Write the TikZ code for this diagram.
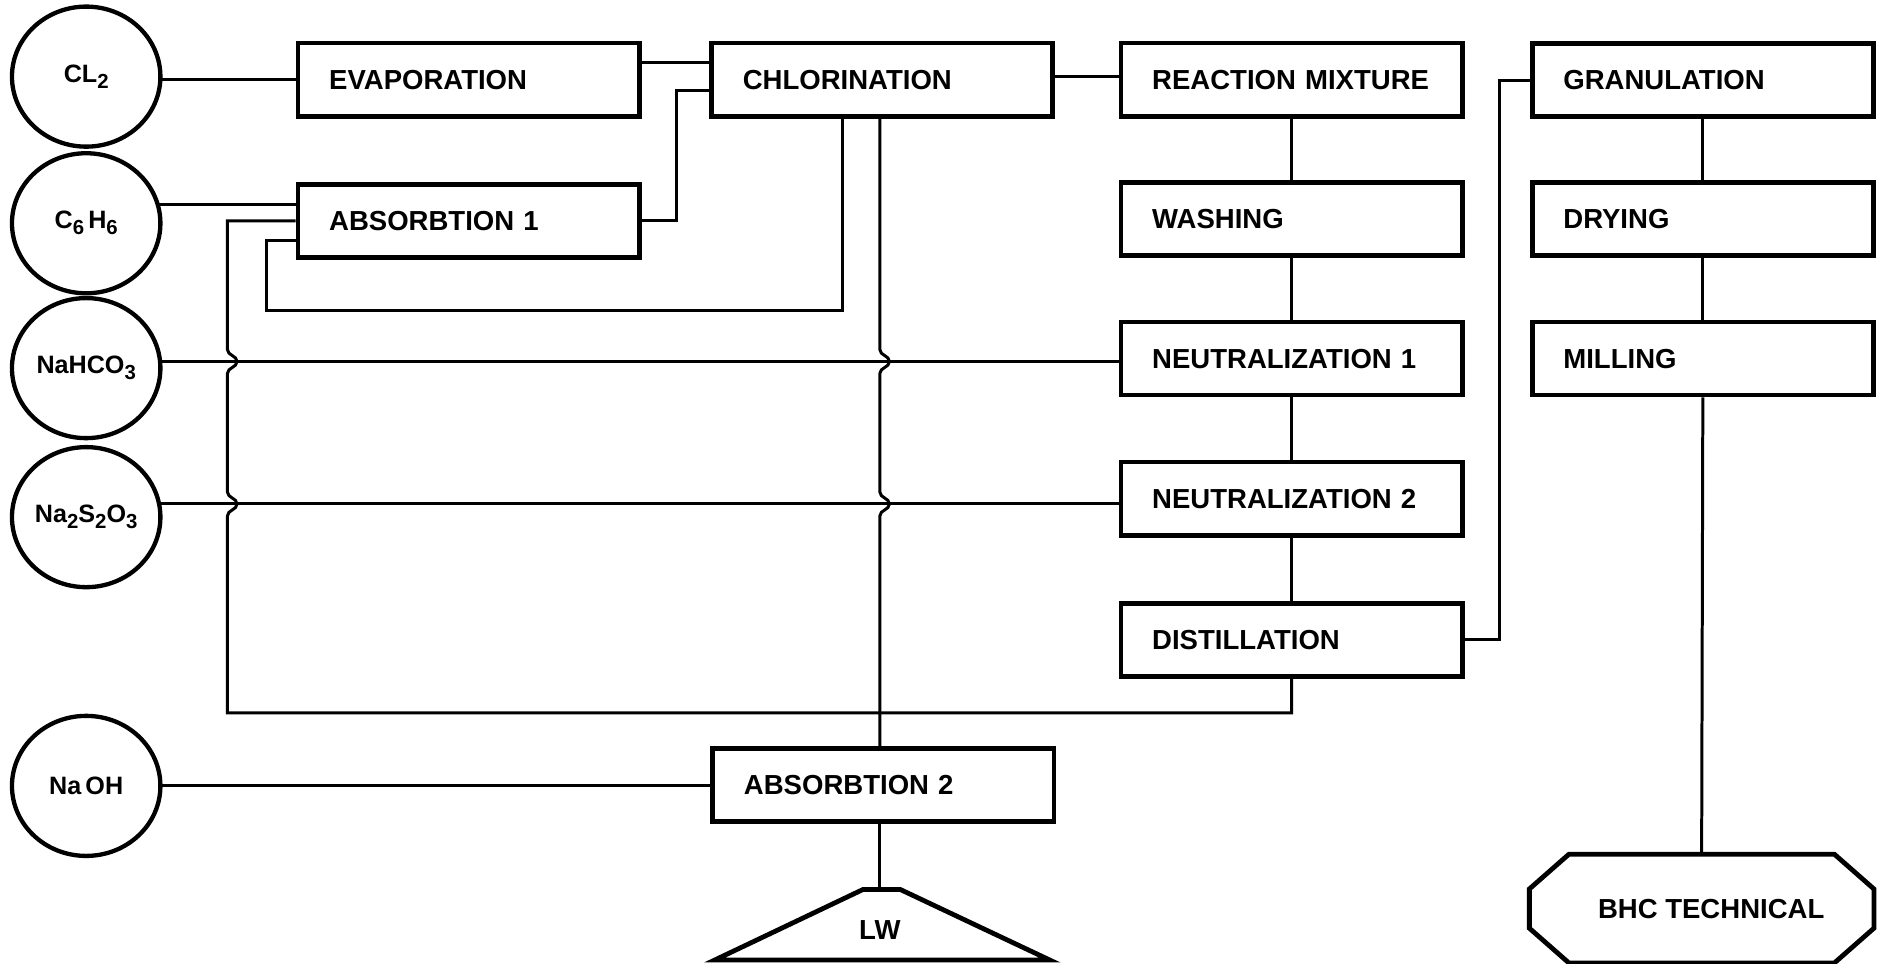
\documentclass[tikz,border=0pt]{standalone}
\usepackage{fontspec}
\setmainfont{Liberation Sans}
\usetikzlibrary{shapes.geometric,calc}
\pgfdeclarelayer{back}
\pgfdeclarelayer{background}
\pgfsetlayers{back,background,main}
\newcommand{\lowsub}[1]{\raisebox{-0.45ex}{\fontsize{8.5}{9}\selectfont #1}}
\begin{document}
\begin{tikzpicture}[x=0.5pt,y=-0.5pt,
  box/.style={draw,line width=2pt,fill=white,rectangle,minimum height=30.5pt,
    text width=116.5pt,inner xsep=13pt,inner ysep=0pt,align=left,
    font=\fontsize{11.5}{13}\selectfont\bfseries},
  src/.style={draw,ellipse,line width=1.8pt,fill=white,minimum width=62pt,
    minimum height=58.5pt,inner sep=0pt,font=\fontsize{10.5}{12}\selectfont\bfseries},
  conn/.style={line width=1.25pt,line join=miter},
  shp/.style={line width=2pt,line join=miter},
  lbl/.style={inner sep=0pt,font=\fontsize{11.5}{13}\selectfont\bfseries}]
\begin{pgfonlayer}{back}
\fill[white] (0,0) rectangle (1568,805);
\end{pgfonlayer}
\useasboundingbox (0,0) rectangle (1568,805);

% sources
\node[src] (cl2) at (72,64) {CL\lowsub{2}};
\node[src] (c6h6) at (72,186.5) {C\lowsub{6}\,H\lowsub{6}};
\node[src] (nahco3) at (72,307.5) {NaHCO\lowsub{3}};
\node[src] (na2s2o3) at (72,432) {Na\lowsub{2}S\lowsub{2}O\lowsub{3}};
\node[src] (naoh) at (72,656.5) {Na\,OH};

% process boxes
\node[box] (evap) at (391.5,66.5) {EVAPORATION};
\node[box] (abs1) at (391.5,184.5) {ABSORBTION 1};
\node[box] (chlor) at (737,66.5) {CHLORINATION};
\node[box] (abs2) at (738,656) {ABSORBTION 2};
\node[box] (rm) at (1079,66.5) {REACTION MIXTURE};
\node[box] (wash) at (1079,183) {WASHING};
\node[box] (neut1) at (1079,299.5) {NEUTRALIZATION 1};
\node[box] (neut2) at (1079,416.5) {NEUTRALIZATION 2};
\node[box] (dist) at (1079,534.5) {DISTILLATION};
\node[box] (gran) at (1422.5,67) {GRANULATION};
\node[box] (dry) at (1422.5,183) {DRYING};
\node[box] (mill) at (1422.5,299.5) {MILLING};

% BHC technical (octagon)
\node[lbl,minimum width=143.5pt,minimum height=45pt] (bhc) at (1421.5,759) {\hspace*{8pt}BHC TECHNICAL};
\draw[shp] ([xshift=16.5pt]bhc.north west) -- ([xshift=-16.5pt]bhc.north east)
  -- ([yshift=-14.5pt]bhc.north east) -- ([yshift=14.5pt]bhc.south east)
  -- ([xshift=-16.5pt]bhc.south east) -- ([xshift=16.5pt]bhc.south west)
  -- ([yshift=14.5pt]bhc.south west) -- ([yshift=-14.5pt]bhc.north west) -- cycle;

% LW (trapezoid)
\coordinate (lwtop) at (735,743);
\node[lbl] (lw) at (735,777) {LW};
\draw[shp] (721,743) -- (752,743) -- (877,802) -- (597,802) -- cycle;

\begin{pgfonlayer}{background}
% feeds from the sources
\draw[conn] (cl2.center |- evap.west) -- (evap.west);
\draw[conn] (c6h6.center |- 0,170.5) -- (abs1.west |- 0,170.5);
\draw[conn] (nahco3.center |- 0,302) -- (neut1.west |- 0,302);
\draw[conn] (na2s2o3.center |- 0,421) -- (neut2.west |- 0,421);
\draw[conn] (naoh.center |- abs2.west) -- (abs2.west);
\end{pgfonlayer}

% evaporation / absorbtion 1 to chlorination
\draw[conn] (evap.east |- 0,52) -- (chlor.west |- 0,52);
\draw[conn] (abs1.east) -- (565,184.5) -- (565,76) -- (chlor.west |- 0,76);

% inner loop chlorination -> absorbtion 1
\draw[conn] (chlor.south -| 704,0) -- (704,259) -- (223,259) -- (223,200.5) -- (abs1.west |- 0,200.5);

% outer loop distillation -> absorbtion 1 (with jumps)
\draw[conn] (dist.south) -- (1079,595.6) -- (190,595.6) -- (190,431)
  .. controls (190,426) and (198,426) .. (198,421)
  .. controls (198,416) and (190,416) .. (190,411) -- (190,312)
  .. controls (190,307) and (198,307) .. (198,302)
  .. controls (198,297) and (190,297) .. (190,292) -- (abs1.west -| 190,0) -- (abs1.west);

% chlorination -> absorbtion 2 (with jumps)
\draw[conn] (chlor.south -| 735,0) -- (735,292)
  .. controls (735,297) and (743,297) .. (743,302)
  .. controls (743,307) and (735,307) .. (735,312) -- (735,411)
  .. controls (735,416) and (743,416) .. (743,421)
  .. controls (743,426) and (735,426) .. (735,431) -- (abs2.north -| 735,0);
\draw[conn] (abs2.south -| 735,0) -- (lwtop);

% main chain
\draw[conn] (chlor.east |- 0,64) -- (rm.west |- 0,64);
\draw[conn] (rm.south) -- (wash.north);
\draw[conn] (wash.south) -- (neut1.north);
\draw[conn] (neut1.south) -- (neut2.north);
\draw[conn] (neut2.south) -- (dist.north);
\draw[conn] (dist.east) -- ++(29.5,0) |- (gran.west);
\draw[conn] (gran.south) -- (dry.north);
\draw[conn] (dry.south) -- (mill.north);
\draw[conn] (mill.south) -- (bhc.north);
\end{tikzpicture}
\end{document}
